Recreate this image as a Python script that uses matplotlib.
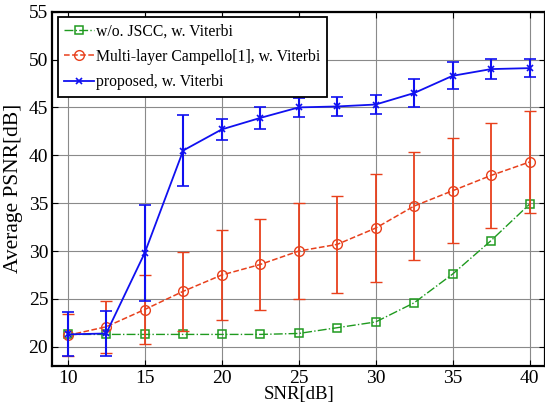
import matplotlib
matplotlib.use('Agg')
from matplotlib import pyplot as plt

snr = [10, 12.5, 15, 17.5, 20, 22.5, 25, 27.5, 30, 32.5, 35, 37.5, 40]

psnr_nojscc = [21.3, 21.3, 21.3, 21.3, 21.3, 21.3, 21.4, 22.0, 22.6, 24.6, 27.6, 31.1, 34.9]

psnr_campello = [21.2, 22.1, 23.9, 25.8, 27.5, 28.6, 30.0, 30.7, 32.4, 34.7, 36.3, 37.9, 39.3]
err_campello = [2.2, 2.7, 3.6, 4.1, 4.7, 4.7, 5.05, 5.1, 5.6, 5.6, 5.5, 5.5, 5.3]

psnr_proposto = [21.3, 21.4, 29.8, 40.5, 42.7, 43.9, 45.0, 45.1, 45.3, 46.5, 48.3, 49.0, 49.1]
err_proposto = [2.3, 2.35, 5.0, 3.75, 1.1, 1.15, 1.0, 1.0, 0.95, 1.45, 1.4, 1.05, 0.95]

rotulos = ['w/o. JSCC, w. Viterbi', 'Multi-layer Campello[1], w. Viterbi', 'proposed, w. Viterbi']

plt.rcParams['font.family'] = ['Liberation Serif', 'DejaVu Serif']

verde = '#1f9a1f'
vermelho = '#e8401c'
azul = '#1010f0'

fig = plt.figure(figsize=(5.45, 4.15), dpi=100)
ax = fig.add_axes([0.096, 0.118, 0.904, 0.854])

# curvas
l1, = ax.plot(snr, psnr_nojscc, color=verde, linestyle='-.', linewidth=1.0, marker='s',
              markersize=5.5, markerfacecolor='none', markeredgewidth=1.1, zorder=3)
e2 = ax.errorbar(snr, psnr_campello, yerr=err_campello, color=vermelho, linestyle='--', linewidth=1.1,
                 marker='o', markersize=7, markerfacecolor='none', markeredgewidth=1.0,
                 elinewidth=1.3, capsize=4, capthick=1.3, zorder=4)
e3 = ax.errorbar(snr, psnr_proposto, yerr=err_proposto, color=azul, linestyle='-', linewidth=1.3,
                 marker='x', markersize=5, markeredgewidth=1.2,
                 elinewidth=1.5, capsize=4, capthick=1.5, zorder=5)

ax.set_xlim(9, 41)
ax.set_ylim(18, 55)
ax.set_xticks([10, 15, 20, 25, 30, 35, 40])
ax.set_yticks([20, 25, 30, 35, 40, 45, 50, 55])
ax.grid(True, color='#8a8a8a', linewidth=0.8)
ax.set_axisbelow(True)
ax.tick_params(direction='in', top=True, right=True, labelsize=14, length=4, pad=3)
for s in ax.spines.values():
    s.set_linewidth(1.6)

ax.set_xlabel('SNR[dB]', fontsize=13.5, labelpad=-1)
ax.set_ylabel('Average PSNR[dB]', fontsize=15.5, labelpad=4)

# legenda so com linha + marcador (sem a barra de erro)
leg = ax.legend([l1, e2[0], e3[0]], rotulos, loc='upper left', fontsize=11.3, fancybox=False,
                framealpha=1, edgecolor='black', handlelength=1.9, handletextpad=0.15,
                borderaxespad=0.35, borderpad=0.4, labelspacing=0.6)
leg.get_frame().set_linewidth(1.3)

plt.savefig('out.png', dpi=100)
